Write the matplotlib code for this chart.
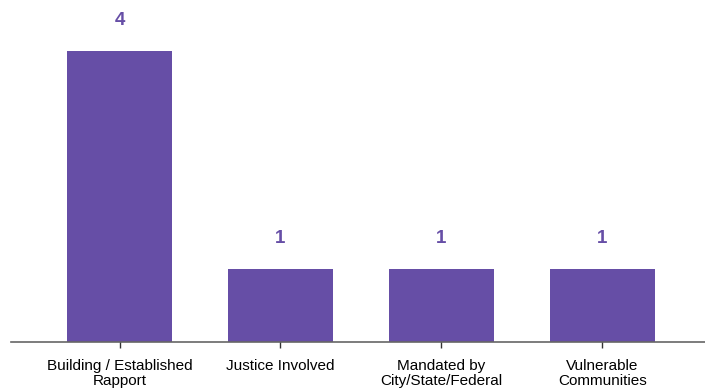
import matplotlib.pyplot as plt

categories = [
    "Building / Established\nRapport",
    "Justice Involved",
    "Mandated by\nCity/State/Federal",
    "Vulnerable\nCommunities",
]
counts = [4, 1, 1, 1]

bar_color = "#664ea6"

plt.rcParams["font.family"] = ["Liberation Sans", "DejaVu Sans"]

fig = plt.figure(figsize=(7.05, 3.89), dpi=100)
ax = fig.add_axes([11 / 705, 47 / 389, 694 / 705, 342 / 389])

x = list(range(len(categories)))
bars = ax.bar(x, counts, width=0.65, color=bar_color, zorder=2)

# value labels above each bar
for rect, val in zip(bars, counts):
    ax.annotate(
        str(val),
        (rect.get_x() + rect.get_width() / 2, rect.get_height()),
        xytext=(0, 16),
        textcoords="offset points",
        ha="center",
        va="bottom",
        fontsize=13.5,
        fontweight="bold",
        color=bar_color,
    )

ax.set_xlim(-0.674, 3.637)
ax.set_ylim(0, 4.70)

ax.set_xticks(x)
ax.set_xticklabels(categories, fontsize=11, linespacing=1.05)
ax.tick_params(axis="x", direction="inout", length=9, width=1, color="#333333", pad=8)
ax.set_yticks([])

for side in ["top", "right", "left"]:
    ax.spines[side].set_visible(False)
ax.spines["bottom"].set_color("#666666")
ax.spines["bottom"].set_linewidth(1.2)
ax.spines["bottom"].set_zorder(3)

fig.savefig("out.png", dpi=100)
